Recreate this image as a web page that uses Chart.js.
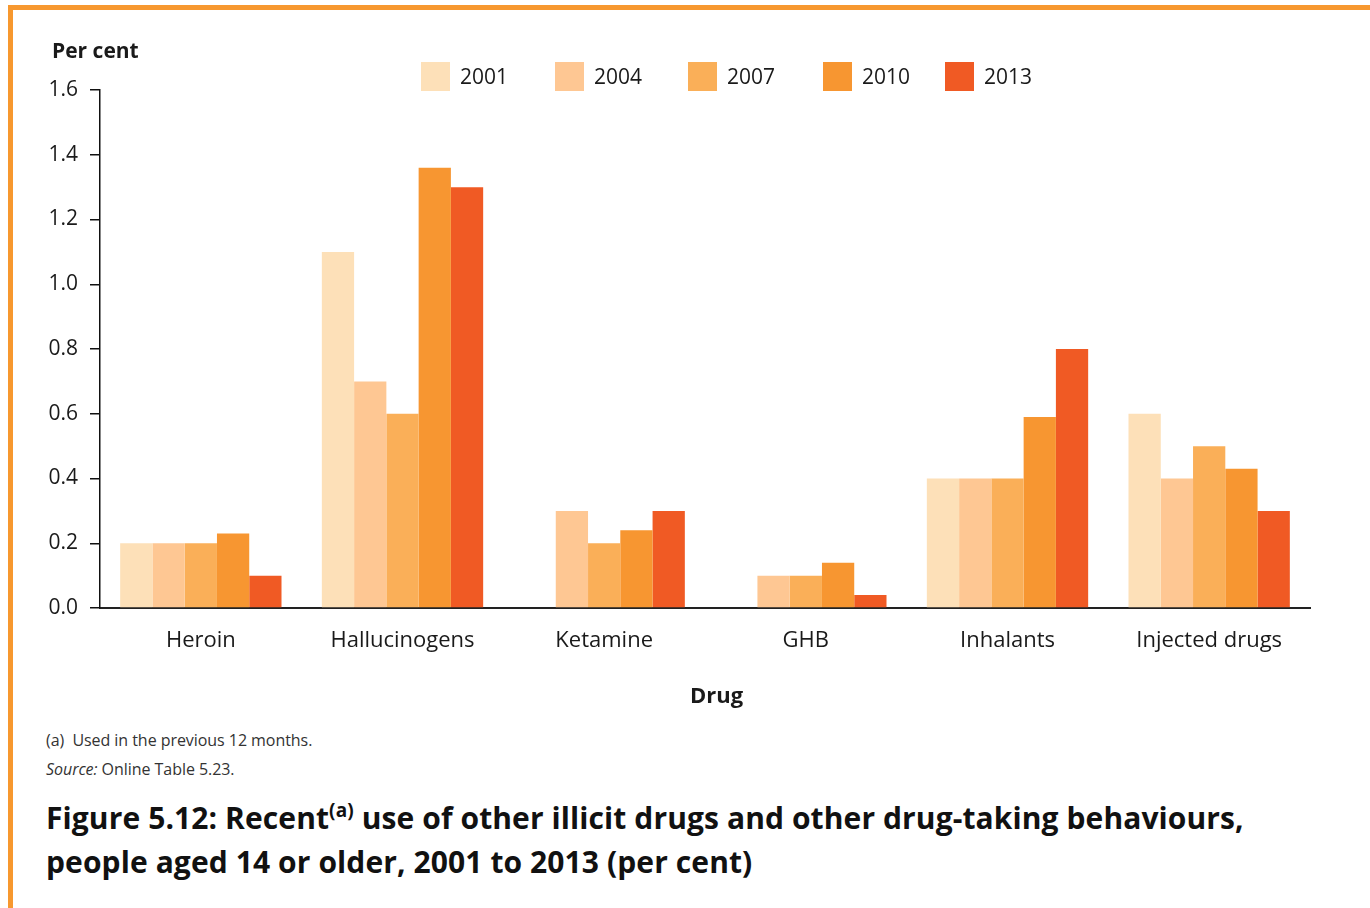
<!DOCTYPE html>
<html>
<head>
<meta charset="utf-8">
<script src="https://cdn.jsdelivr.net/npm/chart.js@4"></script>
<style>
  html, body { margin: 0; padding: 0; background: #fff; width: 1370px; height: 908px; overflow: hidden; font-family: "Open Sans", "Noto Sans", sans-serif; color: #1a1a1a; }
  #frame { position: absolute; left: 8px; top: 5px; width: 1400px; height: 1000px; border: 5px solid #F7982F; box-sizing: border-box; }
  #wrap { position: absolute; left: 0; top: 0; width: 1370px; height: 720px; }
  .abs { position: absolute; white-space: nowrap; }
  #ytitle { left: 52px; top: 36px; font-weight: 700; font-size: 21px; }
  #xtitle { left: 690px; top: 679px; font-weight: 700; font-size: 22px; }
  #note { left: 46px; top: 729px; font-size: 16px; color: #333; letter-spacing: -0.05px; }
  #source { left: 46px; top: 758px; font-size: 16px; color: #333; letter-spacing: -0.05px; }
  #title { left: 46px; top: 796px; font-weight: 700; font-size: 30px; line-height: 44px; letter-spacing: 0.1px; color: #111; }
  #title sup { font-size: 19px; vertical-align: 12px; line-height: 0; }
</style>
</head>
<body>
<div id="frame"></div>
<div id="wrap"><canvas id="c" width="1370" height="720"></canvas></div>
<div class="abs" id="ytitle">Per cent</div>
<div class="abs" id="xtitle">Drug</div>
<div class="abs" id="note">(a)&nbsp; Used in the previous 12 months.</div>
<div class="abs" id="source"><i>Source:</i> Online Table 5.23.</div>
<div class="abs" id="title">Figure 5.12: Recent<sup>(a)</sup> use of other illicit drugs and other drug-taking behaviours,<br>people aged 14 or older, 2001 to 2013 (per cent)</div>
<script>
const categories = ["Heroin", "Hallucinogens", "Ketamine", "GHB", "Inhalants", "Injected drugs"];
const years = ["2001", "2004", "2007", "2010", "2013"];
const v2001 = [0.2, 1.1, null, null, 0.4, 0.6];
const v2004 = [0.2, 0.7, 0.3, 0.1, 0.4, 0.4];
const v2007 = [0.2, 0.6, 0.2, 0.1, 0.4, 0.5];
const v2010 = [0.23, 1.36, 0.24, 0.14, 0.59, 0.43];
const v2013 = [0.1, 1.3, 0.3, 0.04, 0.8, 0.3];
const yTicks = [0, 0.2, 0.4, 0.6, 0.8, 1.0, 1.2, 1.4, 1.6];

const colors = ["#FDE0B8", "#FEC793", "#FAAF58", "#F79631", "#F05A24"];
const series = [v2001, v2004, v2007, v2010, v2013];
const legendX = [421, 555, 688, 823, 945];

const legendPlugin = {
  id: 'customLegend',
  afterDraw(chart) {
    const ctx = chart.ctx;
    ctx.save();
    ctx.font = '21px "Open Sans", "Noto Sans", sans-serif';
    ctx.textBaseline = 'middle';
    ctx.textAlign = 'left';
    chart.data.datasets.forEach((ds, i) => {
      const x = legendX[i];
      ctx.fillStyle = ds.backgroundColor;
      ctx.fillRect(x, 62, 29, 29);
      ctx.fillStyle = '#1a1a1a';
      ctx.fillText(ds.label, x + 39, 78);
    });
    ctx.restore();
  }
};

new Chart(document.getElementById('c'), {
  type: 'bar',
  data: {
    labels: categories,
    datasets: years.map((y, i) => ({
      label: y,
      data: series[i],
      backgroundColor: colors[i],
      borderWidth: 0,
      categoryPercentage: 0.8,
      barPercentage: 1.0
    }))
  },
  options: {
    responsive: false,
    animation: false,
    events: [],
    layout: { padding: { top: 90, right: 60, left: 0, bottom: 0 } },
    plugins: { legend: { display: false }, tooltip: { enabled: false }, title: { display: false } },
    scales: {
      x: {
        grid: { display: false, drawTicks: false },
        border: { display: true, color: '#222', width: 2 },
        ticks: { color: '#1a1a1a', font: { family: '"Open Sans", "Noto Sans", sans-serif', size: 22 }, padding: 20 },
        afterFit(scale) { scale.height = 112; }
      },
      y: {
        min: 0, max: 1.6,
        afterBuildTicks(scale) { scale.ticks = yTicks.map(v => ({ value: v })); },
        grid: { display: true, drawOnChartArea: false, drawTicks: true, tickLength: 10, color: '#111', lineWidth: 1.5 },
        border: { display: true, color: '#111', width: 1.5 },
        ticks: { color: '#1a1a1a', font: { family: '"Open Sans", "Noto Sans", sans-serif', size: 21 }, padding: 12,
          callback: (v) => Number(v).toFixed(1) },
        afterFit(scale) { scale.width = 100; }
      }
    }
  },
  plugins: [legendPlugin]
});
</script>
</body>
</html>
